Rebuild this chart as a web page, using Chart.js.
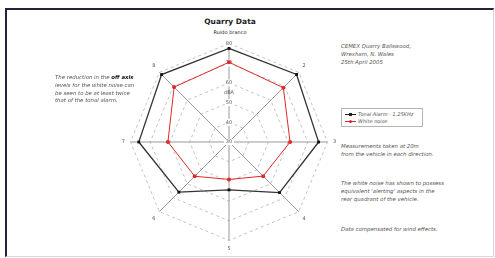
<!DOCTYPE html>
<html>
<head>
<meta charset="utf-8">
<script src="https://cdn.jsdelivr.net/npm/chart.js@4.4.0/dist/chart.umd.min.js"></script>
<style>
    html, body { margin: 0; padding: 0; background: #fff; }
    body { width: 495px; height: 258px; position: relative; overflow: hidden;
           font-family: "DejaVu Sans", sans-serif; }
    .frame { position: absolute; left: 5px; top: 8px; width: 486px; height: 246px;
             border-top: 2px solid #23233d; border-left: 2px solid #23233d;
             border-right: 1px solid #d8d8d8; border-bottom: 1px solid #d8d8d8; }
    .wrap { position: absolute; left: 119px; top: 32px; width: 221px; height: 221px; }
    .title { position: absolute; left: 0; width: 460px; top: 17px; text-align: center;
             font-weight: bold; font-size: 7.5px; color: #222; }
    .sub { position: absolute; left: 0; width: 460px; top: 29px; text-align: center;
           font-size: 5px; color: #222; }
    .note { position: absolute; font-style: italic; font-size: 5.4px; line-height: 7.8px; color: #555; }
    .note b { color: #111; }
    .legend { position: absolute; left: 341px; top: 108px; width: 80px; height: 17px;
              border: 1px solid #b5b5b5; font-style: italic; font-size: 5px; color: #555; }
    .legend div { position: absolute; left: 16px; }
    .legend i { position: absolute; left: -13px; top: 3px; width: 11px; height: 1px; }
    .legend i::after { content: ''; position: absolute; left: 4px; top: -1px; width: 3px; height: 3px;
                       background: inherit; border-radius: var(--rad, 0); }
</style>
</head>
<body>
<div class="frame"></div>
<div class="title">Quarry Data</div>
<div class="sub">Ruido branco</div>
<div class="wrap"><canvas id="chart"></canvas></div>

<div class="note" style="left:55px; top:74px;">The reduction in the <b>off axis</b><br>levels for the white noise can<br>be seen to be at least twice<br>that of the tonal alarm.</div>
<div class="note" style="left:341px; top:43px;">CEMEX Quarry Ballswood,<br>Wrexham, N. Wales<br>25th April 2005</div>
<div class="legend">
    <div style="top:2px;"><i style="background:#222;"></i>Tonal Alarm - 1.25KHz</div>
    <div style="top:9px;"><i style="background:#e02828; --rad:50%;"></i>White noise</div>
</div>
<div class="note" style="left:341px; top:143px;">Measurements taken at 20m<br>from the vehicle in each direction.</div>
<div class="note" style="left:341px; top:180px;">The white noise has shown to possess<br>equivalent 'alerting' aspects in the<br>rear quadrant of the vehicle.</div>
<div class="note" style="left:341px; top:226px;">Data compensated for wind effects.</div>

<script>
const directions = [ '1', '2', '3', '4', '5', '6', '7', '8' ];
const tonalAlarm = [ 77.5, 78.5, 75.5, 66.3, 54.3, 66, 75.8, 78.4 ];
const whiteNoise = [ 70.5, 69, 61, 54.5, 49, 54.6, 61, 69.4 ];
const scaleMin = 30;
const scaleMax = 80;

// centre "30" and the "dBA" unit are not drawn by the radial scale itself
const extraLabels = {
    id: 'extraLabels',
    afterDraw ( chart ) {
        const r = chart.scales.r;
        const ctx = chart.ctx;
        ctx.save();
        ctx.font = '5px "DejaVu Sans"';
        ctx.textAlign = 'center';
        ctx.textBaseline = 'middle';
        ctx.fillStyle = '#fff';
        ctx.fillRect( r.xCenter - 5, r.yCenter - 3, 10, 6 );
        ctx.fillStyle = '#555';
        ctx.fillText( String( scaleMin ), r.xCenter, r.yCenter );
        const d = r.getDistanceFromCenterForValue( 60 );
        ctx.fillText( 'dBA', r.xCenter, r.yCenter - d + 10 );
        ctx.restore();
    }
};

new Chart( document.getElementById( 'chart' ), {
    type: 'radar',
    data: {
        labels: directions,
        datasets: [ {
            label: 'Tonal Alarm - 1.25KHz',
            data: tonalAlarm,
            borderColor: '#333',
            borderWidth: 1.3,
            backgroundColor: 'transparent',
            pointStyle: 'rect',
            pointRadius: 2,
            pointBackgroundColor: '#111',
            pointBorderColor: '#111',
            pointBorderWidth: 0
        }, {
            label: 'White noise',
            data: whiteNoise,
            borderColor: '#e02828',
            borderWidth: 1,
            backgroundColor: 'transparent',
            pointStyle: 'circle',
            pointRadius: 2,
            pointBackgroundColor: '#e02828',
            pointBorderColor: '#e02828',
            pointBorderWidth: 0
        } ]
    },
    options: {
        responsive: true,
        maintainAspectRatio: false,
        animation: false,
        layout: { padding: 0 },
        plugins: { legend: { display: false }, tooltip: { enabled: false } },
        elements: { line: { tension: 0 } },
        scales: {
            r: {
                min: scaleMin,
                max: scaleMax,
                ticks: {
                    stepSize: 10,
                    font: { family: '"DejaVu Sans"', size: 5 },
                    color: '#555',
                    backdropColor: '#fff',
                    backdropPadding: 1
                },
                grid: { color: '#aaa', lineWidth: 0.7 },
                border: { dash: [ 3, 3 ] },
                angleLines: { color: '#999', lineWidth: 1 },
                pointLabels: {
                    font: { family: '"DejaVu Sans"', size: 5 },
                    color: '#555',
                    padding: 2,
                    callback: ( label, i ) => i === 0 ? '' : label
                }
            }
        }
    },
    plugins: [ extraLabels ]
} );
</script>
</body>
</html>
